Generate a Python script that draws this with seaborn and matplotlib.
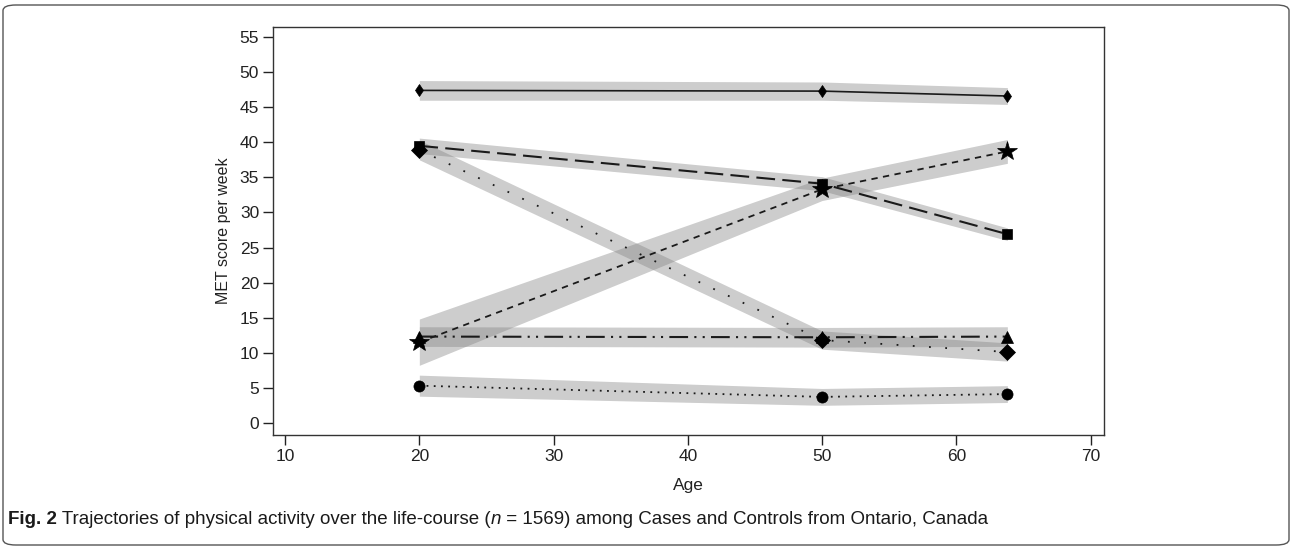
import numpy as np
import pandas as pd
import matplotlib
matplotlib.use("Agg")
import matplotlib.pyplot as plt
import seaborn as sns
from matplotlib.patches import FancyBboxPatch

# ------------------------ DATA ------------------------
ages = [20, 50, 63.8]

series_names = ["solid", "long_dash", "sparse_dot", "short_dash", "dash_dot", "dense_dot"]
solid_vals = [47.4, 47.3, 46.6]
long_dash_vals = [39.5, 34.1, 26.9]
sparse_dot_vals = [38.9, 11.8, 10.1]
short_dash_vals = [11.5, 33.3, 38.7]
dash_dot_vals = [12.3, 12.2, 12.3]
dense_dot_vals = [5.3, 3.7, 4.1]

# half width of the grey bands
solid_ci = [1.4, 1.3, 1.2]
long_dash_ci = [1.1, 1.0, 0.9]
sparse_dot_ci = [1.4, 1.3, 1.3]
short_dash_ci = [3.3, 1.6, 1.7]
dash_dot_ci = [1.4, 1.4, 1.4]
dense_dot_ci = [1.5, 1.2, 1.2]

y_ticks = [0, 5, 10, 15, 20, 25, 30, 35, 40, 45, 50, 55]
x_ticks = [10, 20, 30, 40, 50, 60, 70]

# ------------------------ STYLE ------------------------
sns.set_style("ticks")
plt.rcParams['font.family'] = ['Liberation Sans', 'DejaVu Sans']

styles = {
    "solid":      dict(vals=solid_vals, ci=solid_ci, marker="d", ms=6.5, dash=None, lw=1.2),
    "long_dash":  dict(vals=long_dash_vals, ci=long_dash_ci, marker="s", ms=7, dash=(9, 3.5), lw=1.5),
    "sparse_dot": dict(vals=sparse_dot_vals, ci=sparse_dot_ci, marker="D", ms=8, dash=(1, 8), lw=1.3),
    "short_dash": dict(vals=short_dash_vals, ci=short_dash_ci, marker="*", ms=15, dash=(3.5, 3), lw=1.3),
    "dash_dot":   dict(vals=dash_dot_vals, ci=dash_dot_ci, marker="^", ms=9, dash=(9, 3, 1, 3, 1, 3), lw=1.5),
    "dense_dot":  dict(vals=dense_dot_vals, ci=dense_dot_ci, marker="o", ms=8, dash=(1, 3), lw=1.3),
}

fig = plt.figure(figsize=(12.92, 5.48), dpi=100)
ax = fig.add_axes([0.2113, 0.206, 0.6432, 0.7455])

# grey bands first
for name in series_names:
    s = styles[name]
    v = np.array(s["vals"])
    c = np.array(s["ci"])
    ax.fill_between(ages, v - c, v + c, color="#828282", alpha=0.4, linewidth=0, zorder=1)

# lines and markers
for name in series_names:
    s = styles[name]
    df = pd.DataFrame({"age": ages, "met": s["vals"]})
    sns.lineplot(data=df, x="age", y="met", ax=ax, color="#1a1a1a", linewidth=s["lw"],
                 marker=s["marker"], markersize=s["ms"], markeredgecolor="black",
                 markerfacecolor="black", markeredgewidth=0.5, zorder=3)
    line = ax.lines[-1]
    if s["dash"] is not None:
        line.set_dashes(s["dash"])

ax.set_xlim(9.1, 71.0)
ax.set_ylim(-1.75, 56.5)
ax.set_xticks(x_ticks)
ax.set_yticks(y_ticks)
ax.tick_params(axis="both", direction="out", length=7, width=1, colors="#222222",
               labelsize=12.5, pad=3)
for sp in ax.spines.values():
    sp.set_visible(True)
    sp.set_linewidth(1.0)
    sp.set_color("#333333")
ax.set_xlabel("Age", fontsize=12.5, labelpad=10, color="#222222")
ax.set_ylabel("MET score per week", fontsize=11.5, labelpad=6, color="#222222")

# caption with mixed styles
fig.canvas.draw()
renderer = fig.canvas.get_renderer()
pieces = [
    ("Fig. 2", "bold", "normal"),
    (" Trajectories of physical activity over the life-course (", "normal", "normal"),
    ("n", "normal", "italic"),
    (" = 1569) among Cases and Controls from Ontario, Canada", "normal", "normal"),
]
x_pos = 8 / 1292
for txt, weight, style in pieces:
    t = fig.text(x_pos, 1 - 519 / 548, txt, fontsize=13.5, fontweight=weight, fontstyle=style,
                 va="center", ha="left", color="#1a1a1a")
    bb = t.get_window_extent(renderer=renderer)
    x_pos = bb.x1 / fig.bbox.width

# rounded frame round the whole figure
frame = FancyBboxPatch((3 / 1292, 3 / 548), 1286 / 1292, 540 / 548,
                       boxstyle="round,pad=0,rounding_size=0.01",
                       transform=fig.transFigure, fill=False, edgecolor="#555555",
                       linewidth=1.0)
fig.patches.append(frame)

fig.savefig("out.png", dpi=100)
plt.close()
